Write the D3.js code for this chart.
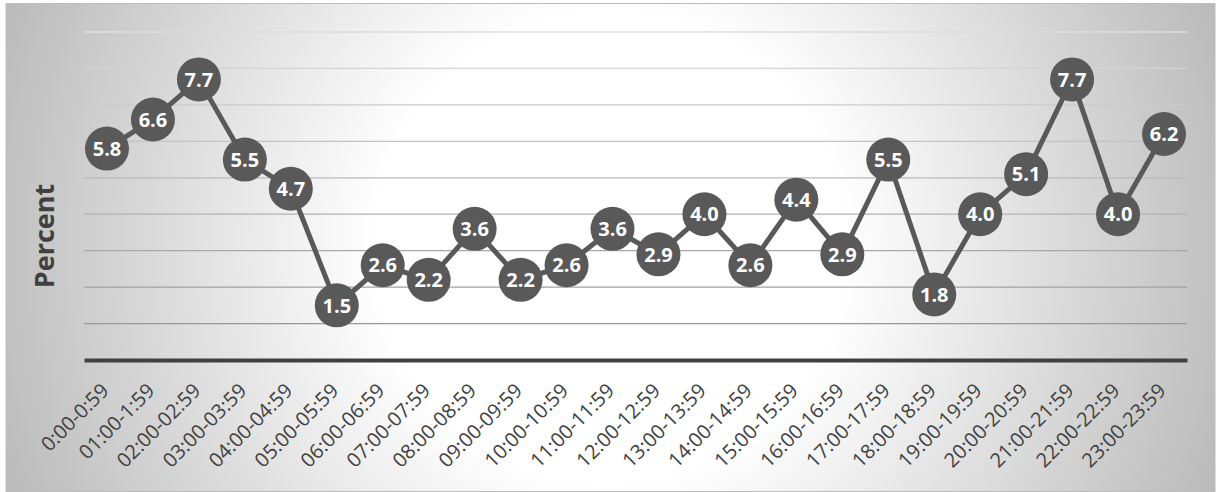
<!DOCTYPE html>
<html>
<head>
<meta charset="utf-8">
<script src="https://cdn.jsdelivr.net/npm/d3@7/dist/d3.min.js"></script>
<style>
  body { margin: 0; background: #fff; }
  svg { display: block; }
</style>
</head>
<body>
<div id="chart"></div>
<script>
// data
const hours = ["0:00-0:59", "01:00-1:59", "02:00-02:59", "03:00-03:59", "04:00-04:59",
  "05:00-05:59", "06:00-06:59", "07:00-07:59", "08:00-08:59", "09:00-09:59",
  "10:00-10:59", "11:00-11:59", "12:00-12:59", "13:00-13:59", "14:00-14:59",
  "15:00-15:59", "16:00-16:59", "17:00-17:59", "18:00-18:59", "19:00-19:59",
  "20:00-20:59", "21:00-21:59", "22:00-22:59", "23:00-23:59"];
const percent = [5.8, 6.6, 7.7, 5.5, 4.7, 1.5, 2.6, 2.2, 3.6, 2.2, 2.6, 3.6,
  2.9, 4.0, 2.6, 4.4, 2.9, 5.5, 1.8, 4.0, 5.1, 7.7, 4.0, 6.2];
const gridTicks = [1, 2, 3, 4, 5, 6, 7, 8, 9];
const yTitle = "Percent";

const W = 1216, H = 492;
const margin = { top: 32, right: 29, bottom: 132, left: 84 };

const svg = d3.select("#chart").append("svg")
  .attr("width", W).attr("height", H);

// background with radial fade
const defs = svg.append("defs");
const grad = defs.append("radialGradient")
  .attr("id", "bg")
  .attr("gradientUnits", "userSpaceOnUse")
  .attr("cx", 610).attr("cy", 247).attr("r", 650);
grad.append("stop").attr("offset", "0").attr("stop-color", "#ffffff");
grad.append("stop").attr("offset", "0.36").attr("stop-color", "#ffffff");
grad.append("stop").attr("offset", "1").attr("stop-color", "#bababa");

svg.append("rect")
  .attr("x", 6).attr("y", 3.5).attr("width", 1209).attr("height", 488)
  .attr("fill", "url(#bg)")
  .attr("stroke", "#bdbdbd").attr("stroke-width", 1);

const x = d3.scaleBand()
  .domain(hours)
  .range([margin.left, W - margin.right]);

const y = d3.scaleLinear()
  .domain([0, 9])
  .range([360, margin.top]);

// gridlines fade lighter toward the top
const gridColor = d3.scaleLinear()
  .domain([1, 9])
  .range(["#989898", "#dcdcdc"]);

svg.append("g")
  .selectAll("line").data(gridTicks)
  .enter().append("line")
  .attr("x1", margin.left).attr("x2", W - margin.right)
  .attr("y1", d => y(d)).attr("y2", d => y(d))
  .attr("stroke", d => gridColor(d)).attr("stroke-width", 1.3);

// x axis
const xAxis = svg.append("g")
  .attr("transform", `translate(0,${y(0)})`)
  .call(d3.axisBottom(x).tickSize(0).tickPadding(0));
xAxis.select(".domain")
  .attr("stroke", "#404040").attr("stroke-width", 4);
xAxis.selectAll("text")
  .attr("font-family", "'Open Sans', sans-serif")
  .attr("font-size", 20)
  .attr("fill", "#404040")
  .attr("text-anchor", "end")
  .attr("dy", null)
  .attr("transform", "translate(3,32) rotate(-45)");

// y title
svg.append("text")
  .attr("transform", "translate(54,236) rotate(-90)")
  .attr("text-anchor", "middle")
  .attr("font-family", "'Open Sans', sans-serif")
  .attr("font-weight", "bold")
  .attr("font-size", 27)
  .attr("fill", "#404040")
  .text(yTitle);

// line
const line = d3.line()
  .x((d, i) => x(hours[i]) + x.bandwidth() / 2)
  .y(d => y(d));

svg.append("path")
  .datum(percent)
  .attr("d", line)
  .attr("fill", "none")
  .attr("stroke", "#595959")
  .attr("stroke-width", 5)
  .attr("stroke-linejoin", "round");

// markers with labels
const pts = svg.append("g")
  .selectAll("g").data(percent)
  .enter().append("g")
  .attr("transform", (d, i) => `translate(${x(hours[i]) + x.bandwidth() / 2},${y(d)})`);

pts.append("circle")
  .attr("r", 22)
  .attr("fill", "#595959");

pts.append("text")
  .attr("text-anchor", "middle")
  .attr("dy", "0.36em")
  .attr("font-family", "'Open Sans', sans-serif")
  .attr("font-weight", "bold")
  .attr("font-size", 20)
  .attr("fill", "#ffffff")
  .text(d => d.toFixed(1));
</script>
</body>
</html>
